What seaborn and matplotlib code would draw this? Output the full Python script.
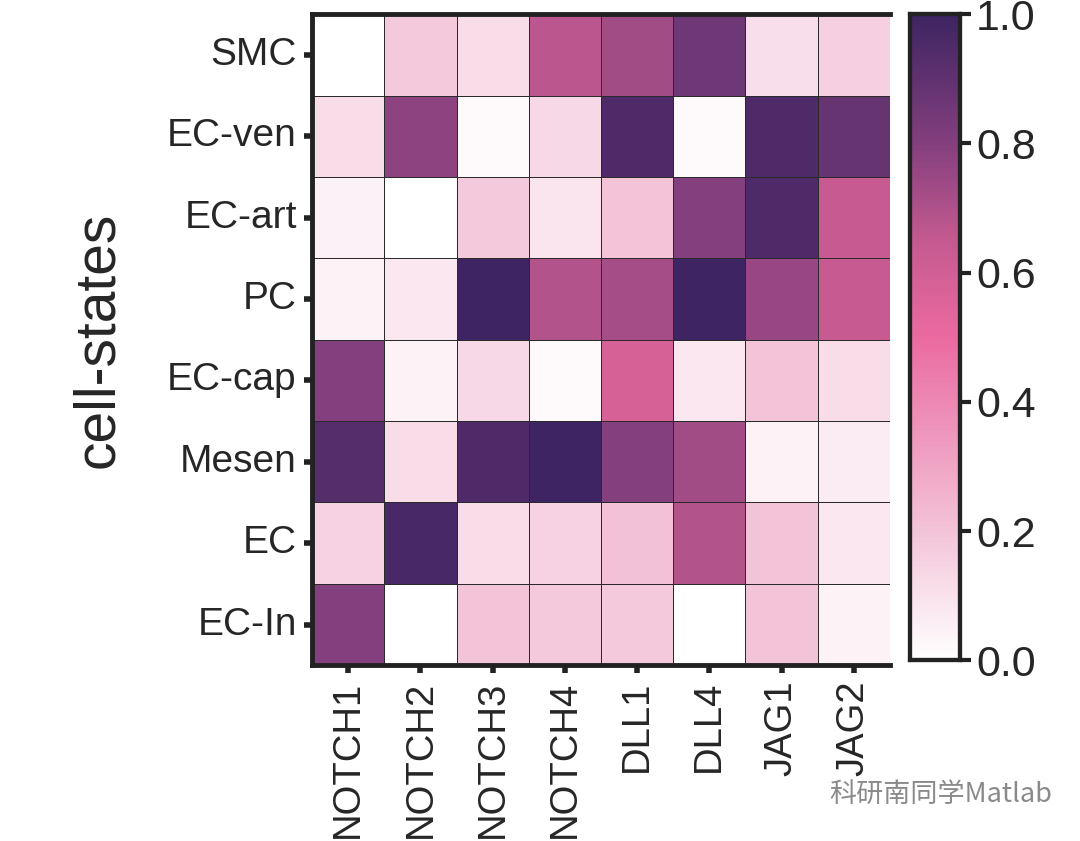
import numpy as np
import pandas as pd
import matplotlib
matplotlib.use("Agg")
import matplotlib.pyplot as plt
import seaborn as sns
from matplotlib.colors import LinearSegmentedColormap

# dados
genes = ["NOTCH1", "NOTCH2", "NOTCH3", "NOTCH4", "DLL1", "DLL4", "JAG1", "JAG2"]
cell_states = ["SMC", "EC-ven", "EC-art", "PC", "EC-cap", "Mesen", "EC", "EC-In"]

smc    = [0.00, 0.18, 0.12, 0.67, 0.73, 0.86, 0.11, 0.16]
ec_ven = [0.12, 0.78, 0.02, 0.13, 0.95, 0.02, 0.95, 0.88]
ec_art = [0.05, 0.00, 0.18, 0.09, 0.20, 0.80, 0.95, 0.64]
pc     = [0.04, 0.08, 1.00, 0.69, 0.72, 1.00, 0.75, 0.64]
ec_cap = [0.80, 0.04, 0.13, 0.02, 0.58, 0.08, 0.20, 0.12]
mesen  = [0.93, 0.12, 0.95, 1.00, 0.80, 0.73, 0.04, 0.07]
ec     = [0.15, 0.97, 0.12, 0.15, 0.21, 0.69, 0.20, 0.08]
ec_in  = [0.80, 0.00, 0.20, 0.18, 0.18, 0.00, 0.20, 0.04]

df = pd.DataFrame([smc, ec_ven, ec_art, pc, ec_cap, mesen, ec, ec_in],
                  index=cell_states, columns=genes)

cmap = LinearSegmentedColormap.from_list("rosa", [
    (0.0, "#ffffff"), (0.2, "#f3c3d8"), (0.5, "#ea6aa0"),
    (0.65, "#c45a90"), (0.8, "#843f7e"), (1.0, "#3e2462")])

sns.set_style("white")
plt.rcParams['font.family'] = ['Liberation Sans', 'DejaVu Sans']

fig = plt.figure(figsize=(10.8, 8.41), dpi=100)
ax = fig.add_axes([0.289, 0.209, 0.535, 0.774])
cax = fig.add_axes([0.843, 0.215, 0.046, 0.768])

sns.heatmap(df, cmap=cmap, vmin=0, vmax=1, linewidths=0.6, linecolor="#2a2a2a",
            ax=ax, cbar_ax=cax)

ax.set_ylabel("cell-states", fontsize=41, labelpad=30)
ax.set_xlabel("")
ax.set_yticklabels(cell_states, rotation=0, fontsize=28)
ax.set_xticklabels(genes, rotation=90, fontsize=27.5)
ax.tick_params(axis='both', direction='out', length=6, width=4, color='#222222',
               left=True, bottom=True, pad=5)

for s in ['left', 'bottom', 'top']:
    ax.spines[s].set_visible(True)
    ax.spines[s].set_linewidth(3.5)
    ax.spines[s].set_color('#222222')
ax.spines['right'].set_visible(False)

cax.tick_params(labelsize=31, length=8, width=3, color='#222222', right=True)
cax.set_yticks([0, 0.2, 0.4, 0.6, 0.8, 1.0])
cax.set_yticklabels(["0.0", "0.2", "0.4", "0.6", "0.8", "1.0"])
for s in cax.spines.values():
    s.set_visible(True)
    s.set_linewidth(3)
    s.set_color('#222222')

# marca d'água
fig.text(0.768, 0.055, "科研南同学Matlab", fontsize=19.5, color="#8a8a8a",
         family=['Noto Sans CJK SC', 'DejaVu Sans'], va='center')

plt.savefig("out.png", dpi=100)
plt.close()
